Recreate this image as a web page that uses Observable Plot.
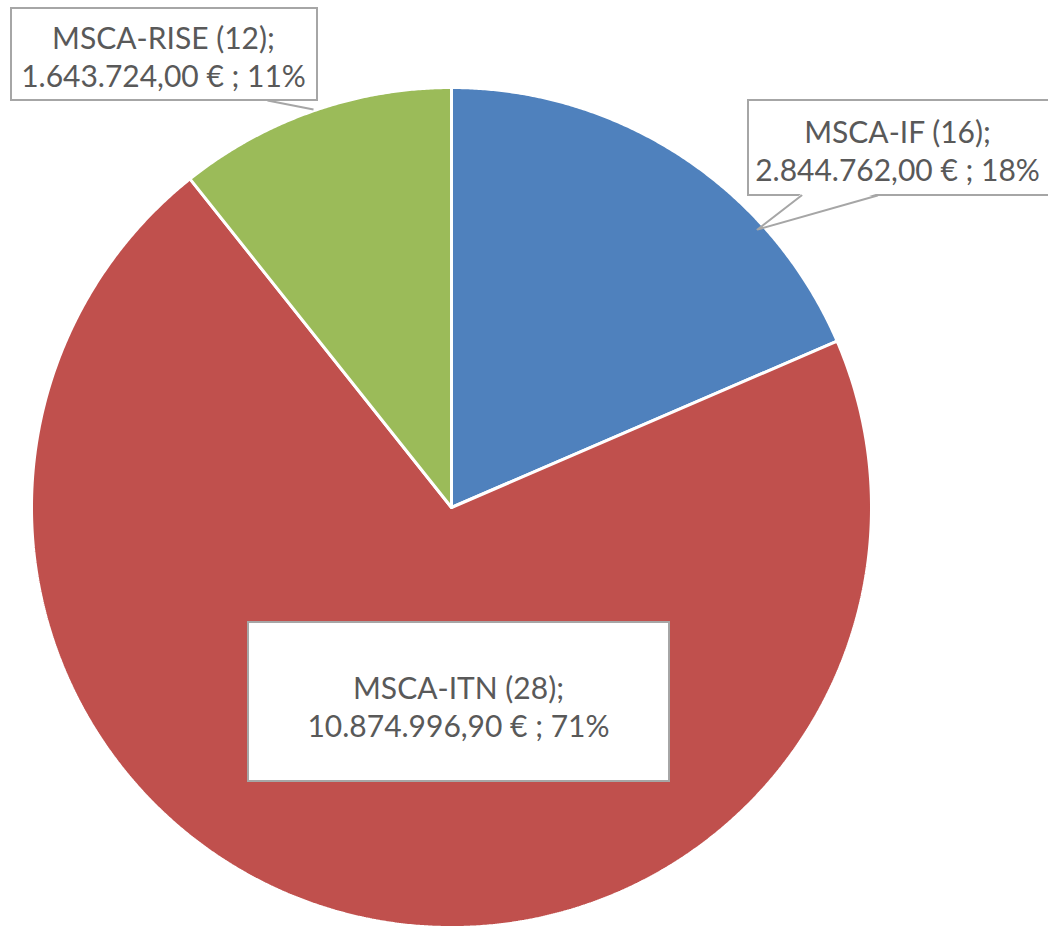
<!DOCTYPE html>
<html>
<head>
<meta charset="utf-8">
<script src="https://cdn.jsdelivr.net/npm/d3@7"></script>
<script src="https://cdn.jsdelivr.net/npm/@observablehq/plot@0.6"></script>
<style>
  html, body { margin: 0; padding: 0; background: #fff; }
  svg { display: block; }
</style>
</head>
<body>
<div id="chart"></div>
<script>
// ---- data ----
const names = ["MSCA-IF", "MSCA-ITN", "MSCA-RISE"];
const counts = [16, 28, 12];
const amounts = [2844762.00, 10874996.90, 1643724.00];
const amountLabels = ["2.844.762,00 €", "10.874.996,90 €", "1.643.724,00 €"];
const percentLabels = ["18%", "71%", "11%"];
const colors = ["#4f81bd", "#c0504d", "#9bbb59"];

// ---- derive slice outlines from values (clockwise from 12 o'clock) ----
const total = d3.sum(amounts);
const points = [];
let acc = 0;
names.forEach((name, i) => {
  const a0 = acc / total * 2 * Math.PI;
  acc += amounts[i];
  const a1 = acc / total * 2 * Math.PI;
  const n = Math.max(8, Math.ceil((a1 - a0) / 0.005));
  points.push({name, x: 0, y: 0});
  for (let k = 0; k <= n; k++) {
    const a = a0 + (a1 - a0) * k / n;
    points.push({name, x: Math.sin(a), y: Math.cos(a)});
  }
  points.push({name, x: 0, y: 0});
});

// ---- layout helpers (pixel -> data units for callout placement) ----
const CX = 451, CY = 507, R = 420;
const X = px => (px - CX) / R;
const Y = py => (CY - py) / R;

const labels = names.map((n, i) => ({
  name: n,
  text: `${n} (${counts[i]});\n${amountLabels[i]} ; ${percentLabels[i]}`
}));
const boxGeom = {
  "MSCA-IF":   {x1: 748, x2: 1060, y1: 100, y2: 195, tx: 897, ty: 149},
  "MSCA-ITN":  {x1: 248, x2: 669, y1: 622, y2: 781, tx: 458, ty: 705},
  "MSCA-RISE": {x1: 11, x2: 317, y1: 8, y2: 100, tx: 163, ty: 55}
};
const boxes = labels.map(d => ({...d, ...boxGeom[d.name]}));

const gray = "#a6a6a6";
const font = "Lato, 'Open Sans', sans-serif";

const plot = Plot.plot({
  width: 1048,
  height: 928,
  marginLeft: CX - R,
  marginRight: 1048 - (CX + R),
  marginTop: CY - R,
  marginBottom: 928 - (CY + R),
  x: {domain: [-1, 1], axis: null},
  y: {domain: [-1, 1], axis: null},
  color: {domain: names, range: colors},
  style: {fontFamily: font, background: "white", overflow: "visible"},
  marks: [
    Plot.line(points, {x: "x", y: "y", z: "name", fill: "name", stroke: "white", strokeWidth: 3, strokeLinejoin: "miter"}),
    // leader for RISE
    Plot.link([0], {x1: () => X(267), y1: () => Y(100), x2: () => X(313), y2: () => Y(109), stroke: gray, strokeWidth: 2}),
    // boxes
    Plot.rect(boxes, {x1: d => X(d.x1), x2: d => X(d.x2), y1: d => Y(d.y1), y2: d => Y(d.y2), fill: "white", stroke: gray, strokeWidth: 2, clip: false}),
    // IF callout pointer
    Plot.line([{x: X(801), y: Y(193)}, {x: X(757), y: Y(229)}, {x: X(877), y: Y(193)}], {x: "x", y: "y", fill: "white", stroke: "none"}),
    Plot.line([{x: X(801), y: Y(195)}, {x: X(757), y: Y(229)}, {x: X(877), y: Y(195)}], {x: "x", y: "y", stroke: gray, strokeWidth: 2, fill: "none"}),
    // label text
    Plot.text(boxes, {x: d => X(d.tx), y: d => Y(d.ty), text: "text", fill: "#595959", fontSize: 30, lineHeight: 1.27, textAnchor: "middle", clip: false})
  ]
});
document.getElementById("chart").appendChild(plot);
</script>
</body>
</html>
